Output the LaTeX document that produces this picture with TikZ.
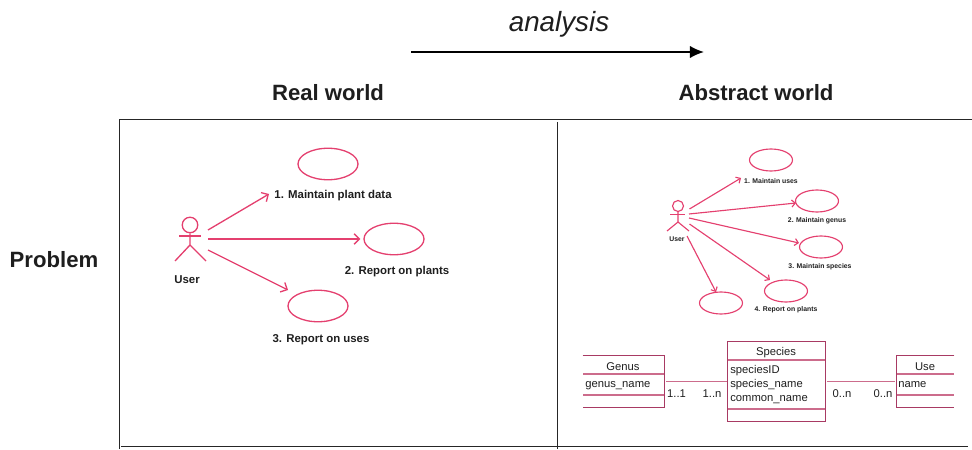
\documentclass[tikz,border=0pt]{standalone}
\usepackage{fontspec}
\setmainfont{Liberation Sans}
\usetikzlibrary{shapes.geometric}
\usetikzlibrary{arrows.meta}
\definecolor{ucpink}{HTML}{E4406F}
\definecolor{boxred}{HTML}{A83A63}
\definecolor{linkred}{HTML}{CC6C8C}
\definecolor{ink}{HTML}{1E1E1E}
\tikzset{%
    head/.style={font=\fontsize{12.6}{14}\selectfont\bfseries,text=ink},
    bigcase/.style={ellipse,draw=ucpink,line width=0.75pt,inner sep=0pt,minimum width=1.2cm,minimum height=0.63cm},
    smallcase/.style={ellipse,draw=ucpink,line width=0.65pt,inner sep=0pt,minimum width=0.86cm,minimum height=0.44cm},
    biglbl/.style={font=\fontsize{6.5}{8}\selectfont\bfseries,text=ink,inner sep=0.08cm},
    smalllbl/.style={font=\fontsize{3.9}{5}\selectfont\bfseries,text=ink,inner sep=0.04cm},
    bigline/.style={draw=ucpink,line width=0.75pt},
    smallline/.style={draw=ucpink,line width=0.65pt},
    bigarr/.style={bigline,-{Straight Barb[length=3pt,width=6pt]}},
    smallarr/.style={smallline,-{Straight Barb[length=2pt,width=4pt]}},
    classbox/.style={draw=none,inner sep=0pt},
    boxline/.style={draw=boxred,line width=0.6pt},
    rowline/.style={draw=linkred,line width=0.6pt},
    linkline/.style={draw=linkred,line width=1pt},
    classtxt/.style={font=\fontsize{6.4}{8}\selectfont,text=ink,inner sep=0pt},
    attrtxt/.style={classtxt,anchor=base west},
    frame/.style={draw=black!85,line width=0.65pt}
}

\begin{document}
\begin{tikzpicture}[x=0.02cm,y=-0.02cm]
        \useasboundingbox (0,0) rectangle (972,449);

        % headings
        \node[font=\fontsize{15.8}{18}\selectfont\itshape,text=ink] (analysis) at (559,24){analysis};
        \coordinate (arrs) at (411,52);
        \coordinate (arre) at (704,52);
        \draw[line width=0.9pt,-{Latex[length=8pt,width=7pt]}] (arrs) -- (arre);
        \node[head] (real) at (328,93){Real world};
        \node[head] (abstract) at (756,93){Abstract world};
        \node[head] (problem) at (54,260){Problem};

        % frame
        \coordinate (tl) at (119.5,119.5);
        \coordinate (tr) at (972,119.5);
        \coordinate (bl) at (119.5,449);
        \coordinate (mt) at (557.5,122);
        \coordinate (mb) at (557.5,449);
        \coordinate (cl) at (121,446.5);
        \coordinate (cr) at (968,446.5);
        \draw[frame] (bl) -- (tl) -- (tr);
        \draw[frame] (mt) -- (mb);
        \draw[frame] (cl) -- (cr);

        % real world
        \node[bigcase] (e1) at (328,164){};
        \node[bigcase] (e2) at (394,239){};
        \node[bigcase] (e3) at (318,306){};

        \node[biglbl] (t1) at (333,195.5){1. Maintain plant data};
        \node[biglbl] (t2) at (397,271.5){2. Report on plants};
        \node[biglbl] (t3) at (321,339.5){3. Report on uses};
        \node[biglbl] (user) at (187,279.5){User};

        \node[circle,bigline,inner sep=0pt,minimum size=0.31cm] (uh) at (190,225){};
        \draw[bigline] (uh.south) -- (190,245) -- (175,261);
        \draw[bigline] (190,245) -- (206,261);
        \draw[bigline] (179,236) -- (201,236);

        \coordinate (a1) at (208,230);
        \coordinate (a2) at (208,239);
        \coordinate (a3) at (208,250);
        \coordinate (a1e) at (269,194);
        \coordinate (a3e) at (288,290);
        \draw[bigarr] (a1) -- (a1e);
        \draw[bigarr,shorten >=0.06cm] (a2) -- (e2.west);
        \draw[bigarr] (a3) -- (a3e);

        % abstract world
        \node[smallcase] (c1) at (771,160){};
        \node[smallcase] (c2) at (817,201){};
        \node[smallcase] (c3) at (821,247){};
        \node[smallcase] (c4) at (786,291){};
        \node[smallcase] (c5) at (721,303){};

        \node[smalllbl] (l1) at (771,181.5){1. Maintain uses};
        \node[smalllbl] (l2) at (817,220.5){2. Maintain genus};
        \node[smalllbl] (l3) at (820,266.5){3. Maintain species};
        \node[smalllbl] (l4) at (786,309.5){4. Report on plants};
        \node[smalllbl] (user2) at (677,239.5){User};

        \node[circle,smallline,inner sep=0pt,minimum size=0.22cm] (vh) at (678,206){};
        \draw[smallline] (vh.south) -- (678,222) -- (667,231);
        \draw[smallline] (678,222) -- (689,231);
        \draw[smallline] (670,214.5) -- (685,214.5);

        \coordinate (b1) at (689.5,209);
        \coordinate (b2) at (689,214);
        \coordinate (b3) at (689,218);
        \coordinate (b4) at (689.5,224);
        \coordinate (b5) at (687,236);
        \coordinate (b1e) at (741,178);
        \coordinate (b2e) at (796,203);
        \coordinate (b3e) at (799,243);
        \coordinate (b4e) at (770,280);
        \coordinate (b5e) at (716,292);
        \draw[smallarr] (b1) -- (b1e);
        \draw[smallarr] (b2) -- (b2e);
        \draw[smallarr] (b3) -- (b3e);
        \draw[smallarr] (b4) -- (b4e);
        \draw[smallarr] (b5) -- (b5e);

        % classes
        \node[classbox,minimum width=1.63cm,minimum height=1.04cm] (genus) at (623.75,381.5){};
        \node[classbox,minimum width=1.96cm,minimum height=1.6cm] (species) at (776.5,381.5){};
        \node[classbox,minimum width=1.15cm,minimum height=1.04cm] (use) at (925.25,381.5){};

        \draw[rowline] (583,374) -- (664.5,374);
        \draw[rowline] (583,395) -- (664.5,395);
        \draw[rowline] (727.5,360) -- (825.5,360);
        \draw[rowline] (727.5,409) -- (825.5,409);
        \draw[rowline] (896.5,374) -- (954,374);
        \draw[rowline] (896.5,395) -- (954,395);
        \draw[boxline] (genus.north west) -- (genus.north east) -- (genus.south east) -- (genus.south west);
        \draw[boxline] (species.north west) rectangle (species.south east);
        \draw[boxline] (use.north east) -- (use.north west) -- (use.south west) -- (use.south east);

        \node[classtxt] (gname) at (623,366.5){Genus};
        \node[attrtxt] (gattr) at (585,387){genus\_name};
        \node[classtxt] (sname) at (776,352.5){Species};
        \node[attrtxt] (sattr1) at (730,373){speciesID};
        \node[attrtxt] (sattr2) at (730,387){species\_name};
        \node[attrtxt] (sattr3) at (730,401){common\_name};
        \node[classtxt] (uname) at (925,366.5){Use};
        \node[attrtxt] (uattr) at (898,387){name};

        \coordinate (gs1) at (666,381.5);
        \coordinate (gs2) at (726.5,381.5);
        \coordinate (su1) at (827,381.5);
        \coordinate (su2) at (895,381.5);
        \draw[linkline] (gs1) -- (gs2);
        \draw[linkline] (su1) -- (su2);

        \node[classtxt] (m1) at (676.5,393.5){1..1};
        \node[classtxt] (m2) at (712,393.5){1..n};
        \node[classtxt] (m3) at (842,393.5){0..n};
        \node[classtxt] (m4) at (883,393.5){0..n};
    \end{tikzpicture}
\end{document}
